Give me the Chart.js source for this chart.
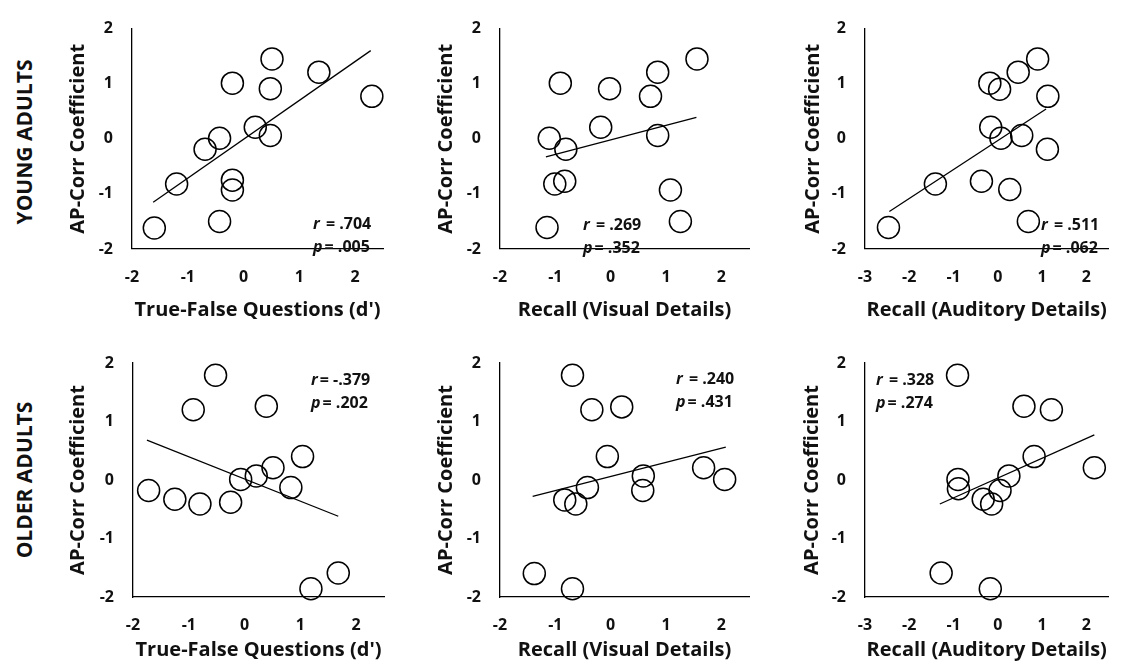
<!DOCTYPE html>
<html><head><meta charset="utf-8">
<script src="https://cdn.jsdelivr.net/npm/chart.js@4"></script>
<style>
html,body{margin:0;padding:0;background:#fff;}
#wrap{position:relative;width:1121px;height:671px;overflow:hidden;background:#fff;}
#wrap canvas{position:absolute;left:0;top:0;}
.rowlab{position:absolute;font-family:"Open Sans",sans-serif;font-weight:bold;font-size:21px;color:#111;transform:translate(-50%,-50%) rotate(-90deg);white-space:nowrap;}
</style></head>
<body><div id="wrap">
<div class="rowlab" id="rl0" style="left:24px;top:142px"></div>
<div class="rowlab" id="rl1" style="left:24px;top:480px"></div>
</div>
<script>
// ---------- data ----------
const yTicks = [-2, -1, 0, 1, 2];
const xTicksA = [-2, -1, 0, 1, 2];
const xTicksB = [-3, -2, -1, 0, 1, 2];

const yTitle = 'AP-Corr Coefficient';
const xTitles = ["True-False Questions (d')", 'Recall (Visual Details)', 'Recall (Auditory Details)'];
const rowLabels = ['YOUNG ADULTS', 'OLDER ADULTS'];

// Young adults - True-False
const youngTF_x = [-1.60, -1.20, -0.69, -0.43, -0.43, -0.20, -0.20, -0.20, 0.21, 0.48, 0.48, 0.51, 1.35, 2.30];
const youngTF_y = [-1.62, -0.82, -0.19, 0.01, -1.50, -0.75, -0.93, 1.01, 0.21, 0.06, 0.91, 1.45, 1.21, 0.77];
const youngTF_fitX = [-1.62, 2.28];
const youngTF_fitY = [-1.15, 1.60];
const youngTF_stats = [['r', ' = .704'], ['p', '= .005']];

// Young adults - Visual
const youngVis_x = [-1.15, -1.11, -1.01, -0.83, -0.81, -0.91, -0.18, -0.02, 0.72, 0.85, 0.85, 1.08, 1.26, 1.56];
const youngVis_y = [-1.61, 0.01, -0.82, -0.77, -0.19, 1.01, 0.21, 0.91, 0.77, 1.21, 0.06, -0.93, -1.50, 1.45];
const youngVis_fitX = [-1.17, 1.55];
const youngVis_fitY = [-0.33, 0.39];
const youngVis_stats = [['r', ' = .269'], ['p', '= .352']];

// Young adults - Auditory
const youngAud_x = [-2.47, -1.41, -0.37, -0.16, -0.18, 0.04, 0.07, 0.27, 0.46, 0.54, 0.69, 0.90, 1.13, 1.12];
const youngAud_y = [-1.61, -0.82, -0.77, 0.21, 1.01, 0.90, 0.01, -0.92, 1.21, 0.06, -1.50, 1.45, 0.77, -0.19];
const youngAud_fitX = [-2.45, 1.09];
const youngAud_fitY = [-1.32, 0.54];
const youngAud_stats = [['r', ' = .511'], ['p', '= .062']];

// Older adults - True-False
const olderTF_x = [-1.72, -1.25, -0.80, -0.92, -0.52, -0.25, -0.07, 0.21, 0.39, 0.51, 0.83, 1.04, 1.19, 1.68];
const olderTF_y = [-0.18, -0.33, -0.41, 1.20, 1.79, -0.38, 0.01, 0.07, 1.26, 0.21, -0.13, 0.40, -1.86, -1.59];
const olderTF_fitX = [-1.75, 1.68];
const olderTF_fitY = [0.68, -0.62];
const olderTF_stats = [['r', '= -.379'], ['p', '= .202']];

// Older adults - Visual
const olderVis_x = [-1.38, -0.69, -0.83, -0.63, -0.42, -0.69, -0.34, 0.20, -0.06, 0.59, 0.58, 1.68, 2.06];
const olderVis_y = [-1.60, -1.86, -0.34, -0.41, -0.13, 1.79, 1.20, 1.25, 0.40, 0.07, -0.18, 0.21, 0.01];
const olderVis_fitX = [-1.41, 2.08];
const olderVis_fitY = [-0.28, 0.56];
const olderVis_stats = [['r', ' = .240'], ['p', '= .431']];

// Older adults - Auditory
const olderAud_x = [-1.28, -0.17, -0.91, -0.90, -0.89, -0.33, -0.14, 0.05, 0.25, 0.59, 1.21, 0.82, 2.18];
const olderAud_y = [-1.59, -1.86, 1.79, 0.01, -0.15, -0.33, -0.41, -0.18, 0.07, 1.26, 1.20, 0.40, 0.21];
const olderAud_fitX = [-1.31, 2.18];
const olderAud_fitY = [-0.41, 0.77];
const olderAud_stats = [['r', ' = .328'], ['p', '= .274']];

// ---------- layout ----------
const W = 1121, H = 671;
const FONT = '"Open Sans"';
const TXT = '#111';

document.getElementById('rl0').textContent = rowLabels[0];
document.getElementById('rl1').textContent = rowLabels[1];

const panels = [
  {xs: youngTF_x, ys: youngTF_y, fx: youngTF_fitX, fy: youngTF_fitY, stats: youngTF_stats, xt: xTitles[0], xticks: xTicksA, xmin: -2, xmax: 2.5,
   area: [132, 16, 383, 249], yTitleX: 78, xTitleY: 310, ann: [181, 196]},
  {xs: youngVis_x, ys: youngVis_y, fx: youngVis_fitX, fy: youngVis_fitY, stats: youngVis_stats, xt: xTitles[1], xticks: xTicksA, xmin: -2, xmax: 2.5,
   area: [500, 16, 749, 249], yTitleX: 446, xTitleY: 310, ann: [83, 197]},
  {xs: youngAud_x, ys: youngAud_y, fx: youngAud_fitX, fy: youngAud_fitY, stats: youngAud_stats, xt: xTitles[2], xticks: xTicksB, xmin: -3, xmax: 2.5,
   area: [865, 16, 1116, 249], yTitleX: 813, xTitleY: 310, ann: [176, 197]},
  {xs: olderTF_x, ys: olderTF_y, fx: olderTF_fitX, fy: olderTF_fitY, stats: olderTF_stats, xt: xTitles[0], xticks: xTicksA, xmin: -2, xmax: 2.5,
   area: [133, 363, 384, 597], yTitleX: 78, xTitleY: 650, ann: [178, 17]},
  {xs: olderVis_x, ys: olderVis_y, fx: olderVis_fitX, fy: olderVis_fitY, stats: olderVis_stats, xt: xTitles[1], xticks: xTicksA, xmin: -2, xmax: 2.5,
   area: [500, 363, 749, 597], yTitleX: 446, xTitleY: 650, ann: [176, 16]},
  {xs: olderAud_x, ys: olderAud_y, fx: olderAud_fitX, fy: olderAud_fitY, stats: olderAud_stats, xt: xTitles[2], xticks: xTicksB, xmin: -3, xmax: 2.5,
   area: [865, 363, 1116, 597], yTitleX: 812, xTitleY: 650, ann: [11, 17]}
];

const statsPlugin = {
  id: 'stats',
  afterDraw(chart, args, opts) {
    const ctx = chart.ctx, a = chart.chartArea;
    ctx.save();
    ctx.fillStyle = TXT;
    ctx.textBaseline = 'middle';
    ctx.textAlign = 'left';
    opts.lines.forEach((ln, i) => {
      const x = a.left + opts.dx, y = a.top + opts.dy + i * 23;
      ctx.font = 'italic bold 16px ' + FONT;
      ctx.fillText(ln[0], x, y);
      const w = ctx.measureText(ln[0]).width + 2;
      ctx.font = 'bold 16px ' + FONT;
      ctx.fillText(ln[1], x + w, y);
    });
    ctx.restore();
  }
};

const wrap = document.getElementById('wrap');
const titleSizeX = 20, titleSizeY = 20;
const tickSize = 16;

panels.forEach(p => {
  const cv = document.createElement('canvas');
  cv.width = W; cv.height = H;
  cv.style.width = W + 'px'; cv.style.height = H + 'px';
  wrap.appendChild(cv);
  const [l, t, r, b] = p.area;
  const lhX = titleSizeX * 1.2, lhY = titleSizeY * 1.2;
  const YW = l - p.yTitleX + lhY / 2 + 2;
  const XH = p.xTitleY - b + lhX / 2 + 2;
  new Chart(cv, {
    type: 'scatter',
    data: {
      datasets: [
        {data: p.xs.map((x, i) => ({x: x, y: p.ys[i]})),
         pointRadius: 11, pointHoverRadius: 11, pointBorderColor: '#000', pointBackgroundColor: 'rgba(0,0,0,0)',
         pointBorderWidth: 1.5, showLine: false, clip: false},
        {data: p.fx.map((x, i) => ({x: x, y: p.fy[i]})),
         showLine: true, borderColor: '#000', borderWidth: 1.3, pointRadius: 0, pointHoverRadius: 0, fill: false, clip: false}
      ]
    },
    options: {
      responsive: false, animation: false, devicePixelRatio: 1, events: [],
      layout: {padding: {left: l - YW, top: t, right: W - r, bottom: H - b - XH}},
      plugins: {legend: {display: false}, tooltip: {enabled: false},
                stats: {lines: p.stats, dx: p.ann[0], dy: p.ann[1]}},
      scales: {
        x: {type: 'linear', min: p.xmin, max: p.xmax,
            afterFit: s => { s.height = XH; },
            afterBuildTicks: s => { s.ticks = p.xticks.map(v => ({value: v})); },
            grid: {display: false, drawTicks: false},
            border: {display: true, color: '#000', width: 1.3},
            ticks: {padding: 19, color: TXT, font: {family: FONT, weight: 'bold', size: tickSize}, callback: v => String(v), maxRotation: 0, autoSkip: false},
            title: {display: true, text: p.xt, color: TXT, font: {family: FONT, weight: 'bold', size: titleSizeX}, padding: {top: 0, bottom: 2}}},
        y: {type: 'linear', min: -2, max: 2,
            afterFit: s => { s.width = YW; },
            afterBuildTicks: s => { s.ticks = yTicks.map(v => ({value: v})); },
            grid: {display: false, drawTicks: false},
            border: {display: true, color: '#000', width: 1.3},
            ticks: {padding: 19, color: TXT, font: {family: FONT, weight: 'bold', size: tickSize}, callback: v => String(v), autoSkip: false},
            title: {display: true, text: yTitle, color: TXT, font: {family: FONT, weight: 'bold', size: titleSizeY}, padding: {top: 2, bottom: 0}}}
      }
    },
    plugins: [statsPlugin]
  });
});
</script>
</body></html>
